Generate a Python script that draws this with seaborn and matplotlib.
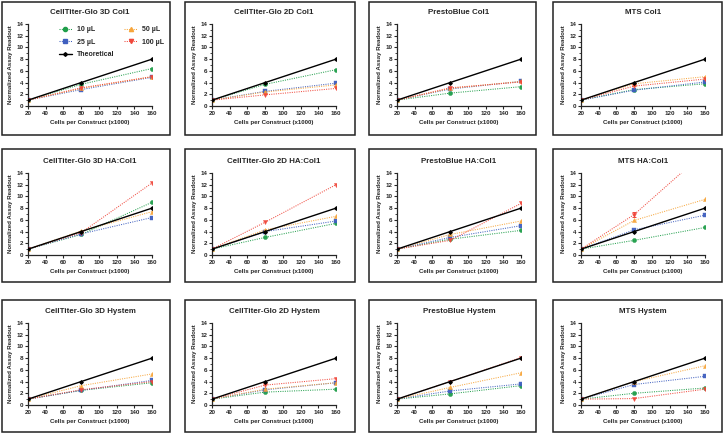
import matplotlib
matplotlib.use("Agg")
import matplotlib.pyplot as plt
import seaborn as sns
from matplotlib.lines import Line2D
from matplotlib.patches import Rectangle
from matplotlib.ticker import MultipleLocator

# ─────────────────────────────
# DATA (normalized readout vs cells per construct)
# ─────────────────────────────
CELLS = [20, 80, 160]

TITLES = [
    "CellTiter-Glo 3D Col1", "CellTiter-Glo 2D Col1", "PrestoBlue Col1", "MTS Col1",
    "CellTiter-Glo 3D HA:Col1", "CellTiter-Glo 2D HA:Col1", "PrestoBlue HA:Col1", "MTS HA:Col1",
    "CellTiter-Glo 3D Hystem", "CellTiter-Glo 2D Hystem", "PrestoBlue Hystem", "MTS Hystem",
]

UL10 = [
    [1, 3.7, 6.4], [1, 3.7, 6.2], [1, 2.2, 3.3], [1, 2.8, 3.8],
    [1, 3.5, 9.0], [1, 3.0, 5.4], [1, 2.7, 4.2], [1, 2.5, 4.7],
    [1, 2.5, 3.8], [1, 2.2, 2.7], [1, 1.9, 3.3], [1, 2.0, 2.9],
]
UL25 = [
    [1, 2.8, 4.9], [1, 2.5, 3.9], [1, 2.9, 4.2], [1, 2.7, 4.1],
    [1, 3.6, 6.4], [1, 4.0, 5.8], [1, 3.0, 5.0], [1, 4.3, 6.8],
    [1, 2.5, 4.2], [1, 2.6, 3.8], [1, 2.4, 3.6], [1, 3.5, 4.9],
]
UL50 = [
    [1, 3.0, 5.0], [1, 2.4, 3.6], [1, 3.0, 4.2], [1, 3.8, 5.0],
    [1, 4.1, 7.4], [1, 4.3, 6.6], [1, 3.5, 5.8], [1, 5.9, 9.5],
    [1, 3.3, 5.3], [1, 2.7, 3.8], [1, 3.0, 5.5], [1, 4.0, 6.7],
]
UL100 = [
    [1, 3.1, 5.0], [1, 1.9, 3.0], [1, 3.1, 4.1], [1, 3.4, 4.6],
    [1, 3.8, 12.3], [1, 5.6, 12.0], [1, 2.5, 8.8], [1, 6.9, 17.6],
    [1, 2.6, 4.0], [1, 3.4, 4.5], [1, 4.0, 8.1], [1, 1.1, 2.7],
]
THEORETICAL = [1, 4, 8]

# only visible error bar: MTS HA:Col1, 100 uL at 80k cells
ERR_PANEL = 7
ERR_100 = [0, 0.4, 0]

SERIES = [
    ("10 µL", UL10, "#1f9e4a", "o"),
    ("25 µL", UL25, "#3f5fbf", "s"),
    ("50 µL", UL50, "#f7a53a", "^"),
    ("100 µL", UL100, "#f0463a", "v"),
]

# ─────────────────────────────
# LAYOUT (pixels)
# ─────────────────────────────
W, H = 724, 434
AX_LEFT = [28, 212, 397, 581]
AX_TOP = [24, 173, 323]
AX_W, AX_H = 124, 82
FRAME_X = [(2, 170), (185, 355), (369, 536), (553, 722)]
FRAME_Y = [(2, 135), (149, 282), (300, 432)]

DOT = (0, (1.0, 1.2))
MS = 3.0

sns.set_style("ticks")
plt.rcParams["font.family"] = ["Liberation Sans", "DejaVu Sans"]
plt.rcParams["font.weight"] = "bold"

fig = plt.figure(figsize=(W / 100, H / 100), dpi=100)

for i, title in enumerate(TITLES):
    r, c = divmod(i, 4)
    ax = fig.add_axes([AX_LEFT[c] / W, 1 - (AX_TOP[r] + AX_H) / H, AX_W / W, AX_H / H])

    for name, vals, col, mk in SERIES:
        sns.lineplot(x=CELLS, y=vals[i], color=col, marker=mk, markersize=MS,
                     markeredgecolor=col, markeredgewidth=0.3, linestyle=DOT,
                     linewidth=0.75, alpha=0.95, ax=ax, zorder=3)
    if i == ERR_PANEL:
        ax.errorbar(CELLS, UL100[i], yerr=ERR_100, fmt="none", ecolor="#f0463a",
                    elinewidth=0.7, capsize=1.5, capthick=0.7, zorder=3)
    sns.lineplot(x=CELLS, y=THEORETICAL, color="black", marker="D", markersize=1.9,
                 markeredgecolor="black", linewidth=1.0, ax=ax, zorder=4)

    ax.set_xlim(20, 160)
    ax.set_ylim(0, 14)
    ax.xaxis.set_major_locator(MultipleLocator(20))
    ax.yaxis.set_major_locator(MultipleLocator(2))
    ax.yaxis.set_minor_locator(MultipleLocator(1))
    ax.tick_params(axis="both", which="major", labelsize=4.5, length=2.5, width=0.8, pad=1)
    ax.tick_params(axis="y", which="minor", length=1.3, width=0.6)
    for s in ["left", "bottom"]:
        ax.spines[s].set_linewidth(0.9)
    sns.despine(ax=ax)
    ax.set_title(title, fontsize=5.7, fontweight="bold", pad=7)
    ax.set_xlabel("Cells per Construct (x1000)", fontsize=4.4, fontweight="bold", labelpad=3)
    ax.set_ylabel("Normalized Assay Readout", fontsize=4.4, fontweight="bold", labelpad=2)

    if i == 0:
        handles = []
        for name, vals, col, mk in SERIES:
            handles.append(Line2D([], [], color=col, marker=mk, markersize=MS,
                                  markeredgecolor=col, linestyle=DOT,
                                  linewidth=0.75, label=name))
        theo = Line2D([], [], color="black", marker="D", markersize=1.9,
                      linewidth=1.0, label="Theoretical")
        order = [handles[0], handles[1], theo, handles[2], handles[3]]
        ax.legend(handles=order, ncol=2, frameon=False, fontsize=5.0,
                  loc="upper left", bbox_to_anchor=(0.2, 1.05),
                  handlelength=1.8, columnspacing=1.4, labelspacing=0.8,
                  handletextpad=0.8)

    x0, x1 = FRAME_X[c]
    y0, y1 = FRAME_Y[r]
    fig.add_artist(Rectangle((x0 / W, 1 - y1 / H), (x1 - x0) / W, (y1 - y0) / H,
                             transform=fig.transFigure, fill=False,
                             edgecolor="#222222", linewidth=1.1))

plt.savefig("out.png", dpi=100)
